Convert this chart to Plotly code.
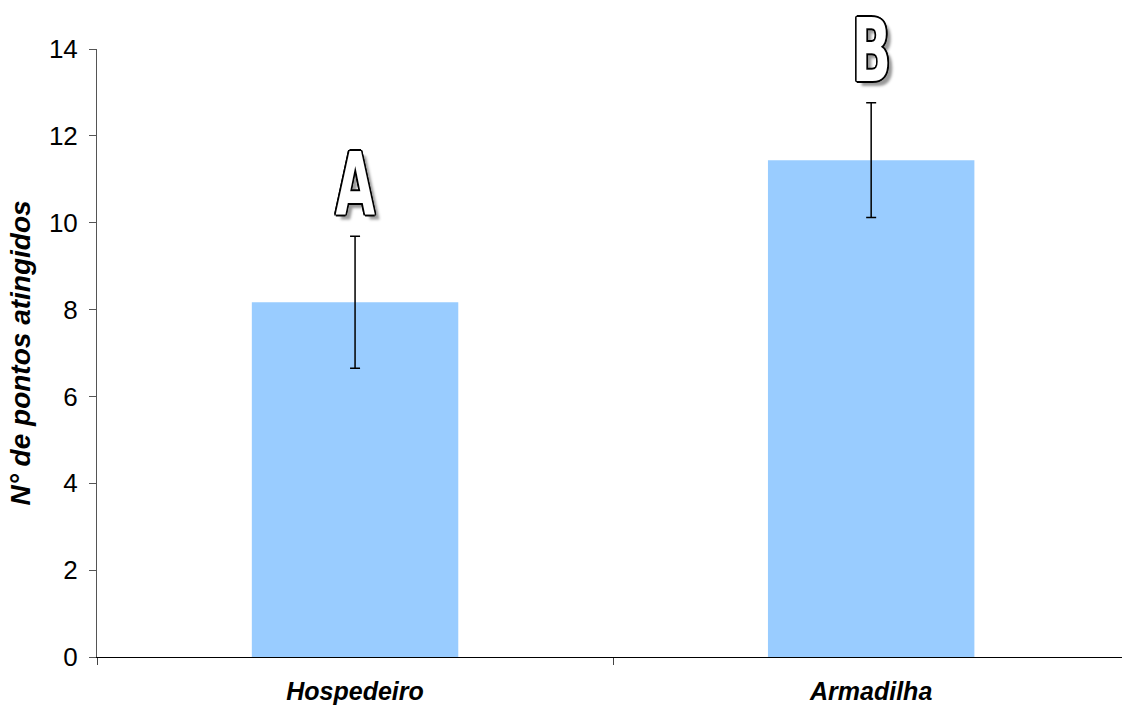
import plotly.graph_objects as go

# Data
categories = ["Hospedeiro", "Armadilha"]
means = [8.17, 11.44]
errors = [1.52, 1.32]
group_letters = ["A", "B"]
y_ticks = [0, 2, 4, 6, 8, 10, 12, 14]

BAR_COLOR = "#99CCFF"
LETTER_GAP = 1.2  # distance from error-bar cap to the centre of the group letter

fig = go.Figure()
fig.add_trace(go.Bar(
    x=categories,
    y=means,
    marker=dict(color=BAR_COLOR, line=dict(width=0)),
    width=0.4,
    error_y=dict(type="data", array=errors, visible=True,
                 color="black", thickness=1.5, width=5),
    showlegend=False,
))

# Outlined letters with drop shadow marking statistical groups
# (horizontal offsets are wider because the glyphs get squeezed sideways afterwards)
outline = ("-2px -1.2px 0 #000, 2px -1.2px 0 #000, -2px 1.2px 0 #000, "
           "2px 1.2px 0 #000, 0 1.3px 0 #000, 0 -1.3px 0 #000, "
           "2.2px 0 0 #000, -2.2px 0 0 #000, 7px 4px 3px #9a9a9a")
for cat, m, e, letter in zip(categories, means, errors, group_letters):
    fig.add_annotation(
        x=cat, y=m + e + LETTER_GAP, text=letter, showarrow=False,
        xanchor="center", yanchor="middle",
        font=dict(family="DejaVu Sans, sans-serif",
                  size=88, color="white", weight="bold", shadow=outline),
    )

fig.update_layout(
    width=1122, height=708,
    margin=dict(l=97, r=0, t=49, b=51),
    plot_bgcolor="white", paper_bgcolor="white",
    font=dict(family="Liberation Sans, Arial, sans-serif", size=26, color="black"),
    bargap=0.6,
)
fig.update_xaxes(
    type="category",
    range=[-0.5, 1.486],
    showline=True, linecolor="black", linewidth=1,
    ticks="outside", tickson="boundaries", ticklen=7, tickcolor="#444",
    tickfont=dict(size=25, weight="bold", style="italic"),
    ticklabelstandoff=12,
    showgrid=False, zeroline=False,
)
fig.update_yaxes(
    range=[0, 14], tickvals=y_ticks,
    showline=True, linecolor="#555", linewidth=1,
    ticks="outside", ticklen=7, tickcolor="#555",
    tickfont=dict(size=26),
    ticklabelstandoff=6,
    showgrid=False, zeroline=False,
    title=dict(text="N° de pontos atingidos",
               font=dict(size=28, weight="bold", style="italic"), standoff=10),
)

# Narrow the group letters into a tall condensed shape
squeeze_js = """
var gd = document.getElementById('{plot_id}');
function squeeze() {
  gd.querySelectorAll('.annotation-text').forEach(function (t) {
    t.style.transformBox = 'fill-box';
    t.style.transformOrigin = 'center';
    t.style.transform = 'scaleX(0.58)';
  });
}
squeeze();
gd.on('plotly_afterplot', squeeze);
"""

fig.write_html("out.html", post_script=squeeze_js)
